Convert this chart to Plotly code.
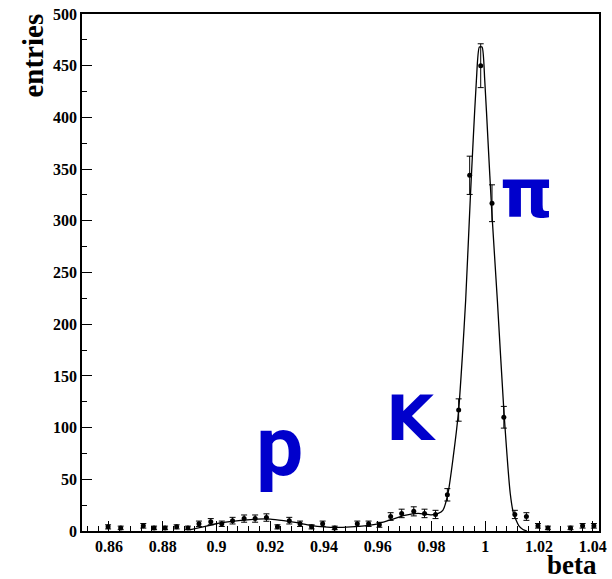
import plotly.graph_objects as go

# ---- data ----
beta_vals = [0.8597, 0.8644, 0.8728, 0.8768, 0.8809, 0.8852, 0.8894, 0.8935, 0.8979, 0.9020,
             0.9060, 0.9103, 0.9144, 0.9186, 0.9227, 0.9271, 0.9311, 0.9354, 0.9395, 0.9440,
             0.9524, 0.9566, 0.9606, 0.9648, 0.9689, 0.9734, 0.9774, 0.9815, 0.9859, 0.9901,
             0.9942, 0.9983, 1.0025, 1.0069, 1.0110, 1.0153, 1.0196, 1.0233, 1.0317, 1.0362,
             1.0404]
entries = [4, 3, 5, 3, 3, 4, 3, 7, 9, 7,
           10, 12, 12, 13, 4, 10, 7, 4, 7, 3,
           7, 7, 6, 14, 17, 19, 17, 16, 35, 117,
           344, 450, 317, 110, 16, 14, 5, 3, 3, 5,
           5]
errors = [2.0, 1.7, 2.2, 1.7, 1.7, 2.0, 1.7, 2.6, 3.0, 2.6,
          3.2, 3.5, 3.5, 3.6, 2.0, 3.2, 2.6, 2.0, 2.6, 1.7,
          2.6, 2.6, 2.4, 3.7, 4.1, 4.4, 4.1, 4.0, 6.0, 10.8,
          18.5, 21.2, 17.8, 10.5, 4.0, 3.7, 2.2, 1.7, 1.7, 2.2,
          2.2]

fit_x = [0.8900, 0.8950, 0.9000, 0.9050, 0.9100, 0.9150, 0.9200, 0.9250, 0.9300, 0.9350,
         0.9400, 0.9450, 0.9500, 0.9550, 0.9600, 0.9650, 0.9700, 0.9750, 0.9800, 0.9825,
         0.9842, 0.9861, 0.9880, 0.9901, 0.9915, 0.9927, 0.9944, 0.9955, 0.9967, 0.9978,
         0.9988, 0.9998, 1.0010, 1.0024, 1.0045, 1.0069, 1.0093, 1.0105, 1.0125, 1.0140,
         1.0155]
fit_y = [1, 4, 7, 9, 10.5, 11.5, 11.5, 10, 8, 5.5,
         4, 3.5, 4, 5, 7, 11, 15, 17, 15.5, 17,
         20, 36, 70, 117, 170, 223, 320, 378, 436, 468,
         468, 436, 378, 310, 223, 117, 36, 17, 5, 1.5,
         0]

x_tickvals = [0.86, 0.88, 0.90, 0.92, 0.94, 0.96, 0.98, 1.00, 1.02, 1.04]
x_ticktext = ["0.86", "0.88", "0.9", "0.92", "0.94", "0.96", "0.98", "1", "1.02", "1.04"]
y_tickvals = [0, 50, 100, 150, 200, 250, 300, 350, 400, 450, 500]
y_ticktext = [str(v) for v in y_tickvals]

peak_labels = ["p", "K", "π"]
peak_x = [0.9234, 0.9722, 1.0154]
peak_y = [82, 109, 326]
peak_font = ["Roboto", "DejaVu Sans", "DejaVu Sans"]
peak_size = [84, 62, 67]

BLUE = "#0000cc"
tick_font = dict(family="Liberation Serif", size=16, color="black")

fig = go.Figure()
fig.add_trace(go.Scatter(
    x=fit_x, y=fit_y, mode="lines",
    line=dict(color="black", width=1.3, shape="spline", smoothing=0.6),
    hoverinfo="skip", showlegend=False))
fig.add_trace(go.Scatter(
    x=beta_vals, y=entries, mode="markers",
    marker=dict(color="black", size=5, symbol="circle"),
    error_y=dict(type="data", array=errors, visible=True, color="black",
                 thickness=1, width=3),
    showlegend=False))

for txt, xv, yv, fam, sz in zip(peak_labels, peak_x, peak_y, peak_font, peak_size):
    fig.add_annotation(x=xv, y=yv, xref="x", yref="y", text=f"<b>{txt}</b>",
                       showarrow=False, xanchor="center", yanchor="middle",
                       font=dict(family=fam, size=sz, color=BLUE))

fig.add_annotation(x=-0.0938, y=0.9187, xref="paper", yref="paper",
                   text="<b>entries</b>", textangle=-90, showarrow=False,
                   xanchor="center", yanchor="middle",
                   font=dict(family="Liberation Serif", size=29, color="black"))
fig.add_annotation(x=0.998, y=-0.0665, xref="paper", yref="paper",
                   text="<b>beta</b>", showarrow=False,
                   xanchor="right", yanchor="middle", borderpad=0,
                   font=dict(family="Liberation Serif", size=27, color="black"))

fig.update_layout(
    width=612, height=579,
    margin=dict(l=82, r=13, t=14, b=48),
    paper_bgcolor="white", plot_bgcolor="white",
    showlegend=False,
)
fig.update_xaxes(
    range=[0.85, 1.0423], showgrid=False, zeroline=False, automargin=False,
    showline=True, linecolor="black", linewidth=1.5, mirror=True,
    ticks="inside", ticklen=10, tickcolor="black", tickwidth=1,
    tickvals=x_tickvals, ticktext=[f"<b>{t}</b>" for t in x_ticktext],
    tickfont=tick_font,
    minor=dict(ticks="inside", ticklen=5, dtick=0.004, tick0=0.86,
               tickcolor="black", tickwidth=1, showgrid=False),
)
fig.update_yaxes(
    range=[0, 500], showgrid=False, zeroline=False, automargin=False,
    showline=True, linecolor="black", linewidth=1.5, mirror=True,
    ticks="inside", ticklen=10, tickcolor="black", tickwidth=1,
    tickvals=y_tickvals, ticktext=[f"<b>{t}</b>" for t in y_ticktext],
    tickfont=tick_font,
    minor=dict(ticks="inside", ticklen=5, dtick=25, tick0=0,
               tickcolor="black", tickwidth=1, showgrid=False),
)

fig.write_html("out.html")
